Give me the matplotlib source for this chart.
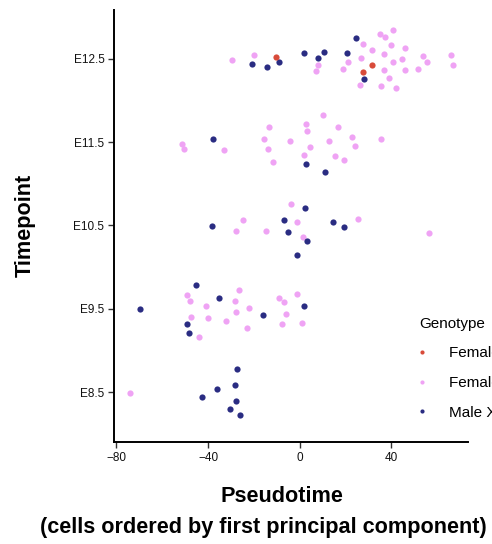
import numpy as np
import matplotlib
matplotlib.use("Agg")
import matplotlib.pyplot as plt
from matplotlib.lines import Line2D

plt.rcParams['font.family'] = ['Liberation Sans', 'DejaVu Sans']

# -----------------------------------
# Data
# -----------------------------------
timepoints = ["E8.5", "E9.5", "E10.5", "E11.5", "E12.5"]
genotypes = ["Female XO", "Female XX", "Male XY"]
colors = ["#D84B3A", "#EFA3F4", "#2A2C82"]

# Female XO
xo_pseudo = [-10.5, 31.6, 27.5]
xo_stage = ["E12.5", "E12.5", "E12.5"]
xo_jitter = [0.02, -0.08, -0.16]

# Female XX
xx_pseudo = [
    -29.4, -19.9, 8.0, 7.1, 21.1, 18.8, 27.5, 26.8, 26.3, 31.4, 35.2, 37.3, 40.8, 39.7,
    36.8, 40.6, 36.8, 39.0, 35.5, 42.1, 45.9, 44.8, 45.9, 51.7, 53.9, 55.6, 65.8, 66.7,
    -51.5, -50.4, -33.1, -13.2, -15.7, -13.8, -11.8, -4.2, 2.6, 3.2, 4.4, 1.9, 10.2, 16.5,
    12.8, 15.2, 19.2, 23.0, 23.9, 35.5,
    -3.8, -24.8, -27.8, -14.7, -1.2, 1.4, 25.5, 56.3,
    -49.0, -47.9, -41.0, -47.3, -40.2, -44.1, -32.4, -26.3, -28.2, -27.8, -22.1, -23.1,
    -9.0, -6.9, -1.3, -5.8, -7.9, 1.0,
    -74.2,
]
xx_stage = ["E12.5"] * 28 + ["E11.5"] * 20 + ["E10.5"] * 8 + ["E9.5"] * 18 + ["E8.5"] * 1
xx_jitter = [
    -0.01, 0.04, -0.07, -0.15, -0.04, -0.12, 0.18, 0.01, -0.31, 0.10, 0.30, 0.26, 0.34, 0.16,
    0.06, -0.04, -0.14, -0.23, -0.33, -0.35, 0.13, 0.00, -0.14, -0.12, 0.03, -0.04, 0.05, -0.07,
    -0.02, -0.08, -0.09, 0.18, 0.04, -0.08, -0.24, 0.01, 0.22, 0.13, -0.06, -0.16, 0.32, 0.18,
    0.01, -0.17, -0.22, 0.06, -0.05, 0.04,
    0.26, 0.06, -0.07, -0.07, 0.04, -0.14, 0.08, -0.09,
    0.17, 0.09, 0.03, -0.10, -0.11, -0.34, -0.15, 0.23, 0.09, -0.04, 0.01, -0.23,
    0.13, 0.08, 0.18, -0.06, -0.18, -0.17,
    -0.01,
]

# Male XY
xy_pseudo = [
    -20.7, -14.1, -9.0, 2.0, 7.9, 10.5, 20.5, 24.6, 27.9,
    -37.9, 2.9, 10.9,
    -38.1, 2.2, -6.7, -5.1, 3.3, -1.2, 14.7, 19.1,
    -69.7, -45.3, -49.2, -48.5, -35.2, -16.2, 1.7,
    -27.4, -28.4, -36.2, -42.8, -27.8, -30.6, -25.9,
]
xy_stage = ["E12.5"] * 9 + ["E11.5"] * 3 + ["E10.5"] * 8 + ["E9.5"] * 7 + ["E8.5"] * 7
xy_jitter = [
    -0.06, -0.10, -0.04, 0.07, 0.01, 0.08, 0.07, 0.25, -0.24,
    0.04, -0.26, -0.36,
    -0.01, 0.21, 0.06, -0.08, -0.19, -0.35, 0.04, -0.02,
    0.00, 0.29, -0.18, -0.29, 0.13, -0.07, 0.03,
    0.28, 0.09, 0.04, -0.06, -0.11, -0.20, -0.28,
]

groups = [
    (xo_pseudo, xo_stage, xo_jitter),
    (xx_pseudo, xx_stage, xx_jitter),
    (xy_pseudo, xy_stage, xy_jitter),
]

# -----------------------------------
# Plot
# -----------------------------------
fig = plt.figure(figsize=(4.92, 5.44), dpi=100)
ax = fig.add_axes([0.232, 0.1875, 0.72, 0.795])

# draw pink first, then navy, red on top
for i in [1, 2, 0]:
    px, st, jit = groups[i]
    y = [timepoints.index(s) + j for s, j in zip(st, jit)]
    ax.scatter(px, y, s=20, color=colors[i], linewidths=0, zorder=3)

ax.set_xlim(-81, 73.6)
ax.set_ylim(-0.6, 4.59)
ax.set_xticks([-80, -40, 0, 40])
ax.set_xticklabels(["\u221280", "\u221240", "0", "40"])
ax.set_yticks(range(len(timepoints)))
ax.set_yticklabels(timepoints)

for side in ["top", "right"]:
    ax.spines[side].set_visible(False)
for side in ["left", "bottom"]:
    ax.spines[side].set_linewidth(1.4)
    ax.spines[side].set_color("black")
ax.tick_params(axis="both", length=4, width=1, color="#333333",
               labelsize=8.5, labelcolor="#111111", pad=3)

# x title: two lines, each centred a bit differently as in the original
ax.set_xlabel("Pseudotime", fontsize=15.6, fontweight="bold")
ax.xaxis.label.set_verticalalignment("baseline")
ax.xaxis.set_label_coords(0.473, -0.1387)
fig.text(0.5356, 0.02, "(cells ordered by first principal component)",
         ha="center", va="baseline", fontsize=15.6, fontweight="bold")

ax.set_ylabel("Timepoint", fontsize=15.6, fontweight="bold")
ax.yaxis.set_label_coords(-0.2205, 0.5)

handles = [Line2D([], [], marker="o", linestyle="", markersize=3,
                  markerfacecolor=c, markeredgewidth=0) for c in colors]
fig.legend(handles, genotypes, title="Genotype", loc="upper left",
           bbox_to_anchor=(0.8395, 0.429), frameon=False, fontsize=11,
           title_fontsize=11, labelspacing=1.025, handlelength=0.4,
           handletextpad=1.57, alignment="left", borderaxespad=0)

fig.savefig("out.png", dpi=100)
